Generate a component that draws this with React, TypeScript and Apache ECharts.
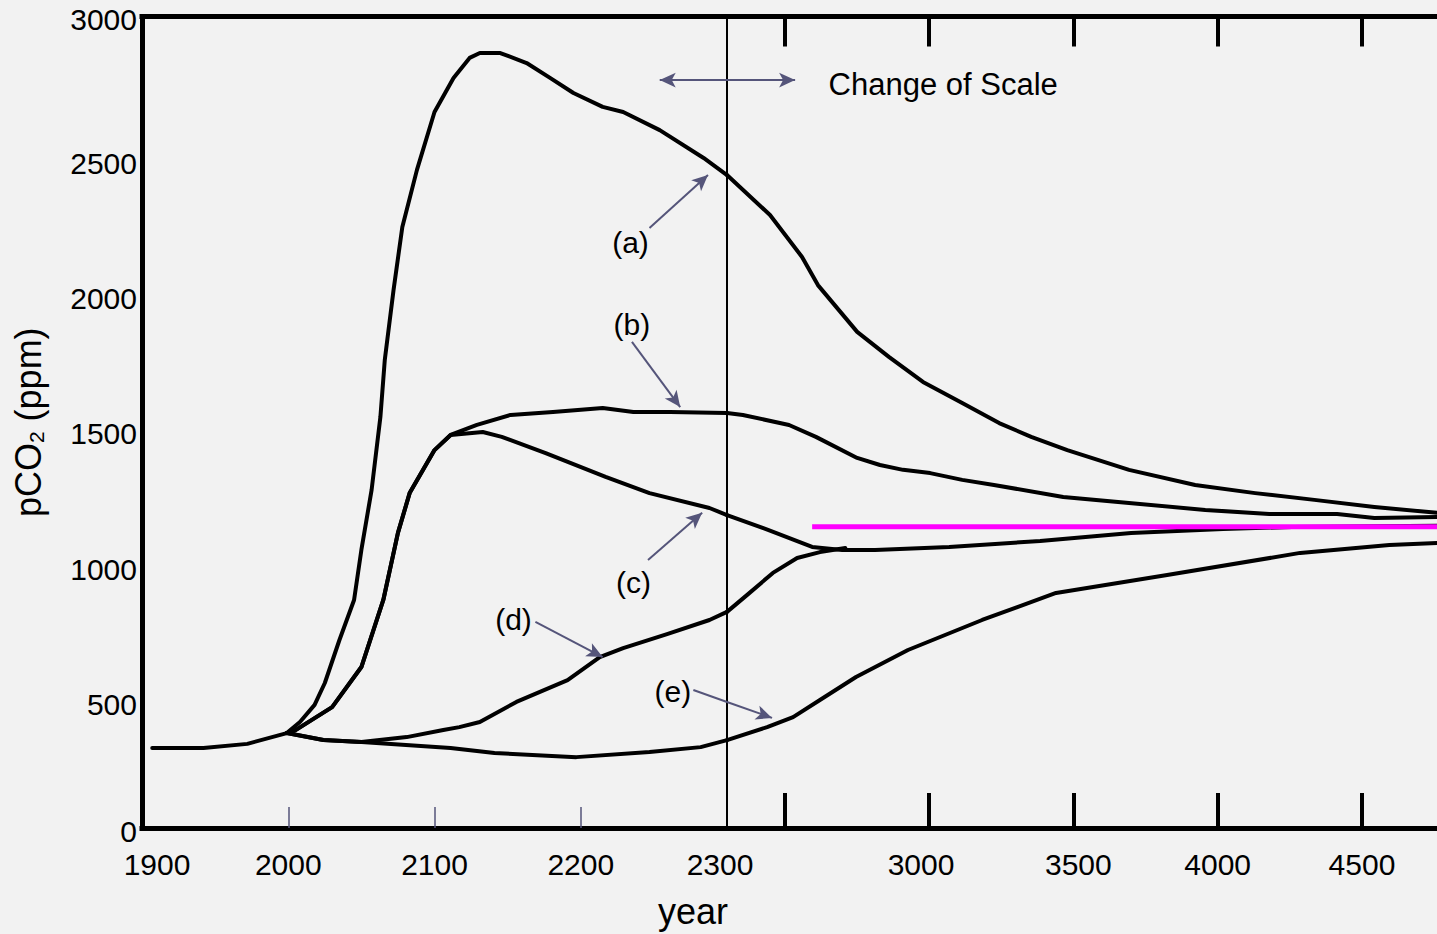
import React, { useEffect, useRef } from 'react';
import * as echarts from 'echarts';

// Year where the horizontal scale changes (1 unit left of it = 5.07 units right of it)
const BREAK_YEAR = 2300;
const LEFT_MIN = 1900;
const RIGHT_MAX = 4760;

// Tick / label positions on the two year scales
const leftTickYears = [2000, 2100, 2200];
const leftLabelYears = [1900, 2000, 2100, 2200, 2300];
const rightTickYears = [2500, 3000, 3500, 4000, 4500];
const rightLabelYears = [3000, 3500, 4000, 4500];

// pCO2 (ppm) trajectories, [year, ppm]
const historical: number[][] = [[1907, 296], [1942, 296], [1972, 311], [1999, 351]];

const curveA: number[][] = [
  [1999, 351], [2008, 392], [2018, 455], [2025, 536], [2035, 695], [2045, 843], [2050, 1028],
  [2057, 1250], [2063, 1519], [2066, 1730], [2072, 1989], [2078, 2222], [2088, 2433], [2100, 2647],
  [2113, 2773], [2124, 2847], [2131, 2865], [2145, 2865], [2163, 2828], [2179, 2773], [2195, 2717],
  [2215, 2666], [2229, 2647], [2254, 2580], [2284, 2477], [2300, 2414],
  [2449, 2266], [2560, 2111], [2615, 2007], [2751, 1834], [2862, 1741], [2979, 1649], [3115, 1571],
  [3243, 1497], [3354, 1446], [3479, 1397], [3693, 1324], [3922, 1268], [4130, 1238], [4335, 1213],
  [4543, 1187], [4760, 1165],
];

const curveB: number[][] = [
  [1999, 351], [2005, 362], [2030, 447], [2050, 595], [2065, 843], [2075, 1091], [2083, 1238],
  [2100, 1397], [2111, 1453], [2129, 1490], [2152, 1527], [2181, 1538], [2215, 1553], [2236, 1538],
  [2261, 1538], [2300, 1534],
  [2355, 1527], [2515, 1490], [2608, 1446], [2751, 1368], [2830, 1342], [2910, 1324], [3004, 1312],
  [3115, 1287], [3225, 1268], [3465, 1224], [3655, 1205], [3957, 1176], [4179, 1161], [4414, 1161],
  [4543, 1146], [4760, 1150],
];

const curveC: number[][] = [
  [1999, 351], [2005, 362], [2030, 447], [2050, 595], [2065, 843], [2075, 1091], [2083, 1238],
  [2100, 1397], [2111, 1453], [2133, 1464], [2146, 1446], [2176, 1386], [2217, 1298], [2247, 1238],
  [2288, 1183], [2300, 1157],
  [2442, 1102], [2595, 1039], [2699, 1028], [2813, 1028], [3070, 1039], [3385, 1061], [3700, 1091],
  [4019, 1105], [4258, 1113], [4760, 1117],
];

const curveD: number[][] = [
  [1999, 351], [2024, 325], [2050, 318], [2081, 336], [2106, 362], [2117, 373], [2131, 392],
  [2156, 466], [2191, 547], [2213, 632], [2229, 665], [2259, 717], [2288, 769], [2300, 799],
  [2369, 861], [2459, 943], [2543, 998], [2622, 1020], [2710, 1035],
];

const curveE: number[][] = [
  [1999, 351], [2024, 325], [2050, 318], [2111, 296], [2141, 277], [2197, 262], [2247, 281],
  [2282, 299], [2300, 325],
  [2439, 373], [2529, 410], [2622, 473], [2747, 558], [2927, 658], [3184, 769], [3440, 869],
  [3825, 935], [4286, 1017], [4595, 1046], [4760, 1054],
];

// Stabilisation level (magenta)
const stabilisationLevel = 1114;
const stabilisationYears = [2595, 4760];

// Curve labels and their pointer arrows, [year, ppm] on the left scale
const curveLabels = [
  { name: '(a)', at: [2234, 2163] },
  { name: '(b)', at: [2235, 1860] },
  { name: '(c)', at: [2236, 909] },
  { name: '(d)', at: [2154, 769] },
  { name: '(e)', at: [2263, 503] },
];
const leftArrows = [
  { from: [2247, 2218], to: [2287, 2414], head: true },
  { from: [2235, 1797], to: [2268, 1556], head: true },
  { from: [2246, 991], to: [2283, 1165], head: true },
  { from: [2169, 762], to: [2215, 632], head: true },
  { from: [2277, 510], to: [2300, 466], head: false },
];
const rightArrows = [{ from: [2300, 466], to: [2456, 407], head: true }];

// "Change of Scale" double arrow
const scaleArrowLevel = 2765;
const scaleArrowLeftYear = 2254;
const scaleArrowRightYear = 2536;
const scaleNote = { text: 'Change of Scale', at: [3049, 2747] };

const FONT = '"Liberation Sans", Arial, Helvetica, sans-serif';
const ARROW_COLOR = '#55557a';

const leftPart = (pts: number[][]) => pts.filter((p) => p[0] <= BREAK_YEAR);
const rightPart = (pts: number[][]) => pts.filter((p) => p[0] >= BREAK_YEAR);

const curveStyle = { color: '#000', width: 4, join: 'round', cap: 'round' };

const arrowItems = (list: { from: number[]; to: number[]; head: boolean }[]) =>
  list.map((a) => [
    { coord: a.from, symbol: 'none' },
    { coord: a.to, symbol: a.head ? 'arrow' : 'none' },
  ]);

const markLineBase = {
  silent: true,
  animation: false,
  symbolSize: [11, 16],
  label: { show: false },
  emphasis: { disabled: true },
  lineStyle: { color: ARROW_COLOR, width: 2, type: 'solid' },
};

const markPointBase = {
  silent: true,
  animation: false,
  symbol: 'circle',
  symbolSize: 1,
  itemStyle: { color: 'rgba(0,0,0,0)' },
  emphasis: { disabled: true },
};

function lineSeries(name: string, grid: number, data: number[][], extra: any = {}) {
  return {
    name,
    type: 'line',
    xAxisIndex: grid === 0 ? 0 : 2,
    yAxisIndex: grid,
    data,
    symbol: 'none',
    smooth: false,
    silent: true,
    lineStyle: curveStyle,
    ...extra,
  };
}

export default function App() {
  const ref = useRef<HTMLDivElement>(null);

  useEffect(() => {
    document.body.style.margin = '0';
    if (!ref.current) return;
    const chart = echarts.init(ref.current, undefined, { renderer: 'svg' });

    const thick = { show: true, lineStyle: { color: '#000', width: 5, cap: 'square' } };
    const labelBase = { fontSize: 30, color: '#000', fontFamily: FONT };

    const option: any = {
      animation: false,
      backgroundColor: '#f2f2f2',
      textStyle: { fontFamily: FONT },
      title: {
        text: 'year',
        left: 658,
        top: 893,
        padding: 0,
        textStyle: { fontSize: 36, fontWeight: 'normal', color: '#000', fontFamily: FONT },
      },
      grid: [
        { left: 142, top: 16.5, width: 585, bottom: 106 },
        { left: 727, top: 16.5, right: 0, bottom: 106 },
      ],
      xAxis: [
        {
          type: 'value', gridIndex: 0, position: 'bottom', min: LEFT_MIN, max: BREAK_YEAR,
          axisLine: thick,
          axisTick: {
            show: true, inside: true, length: 21, customValues: leftTickYears,
            lineStyle: { color: ARROW_COLOR, width: 1.5 },
          },
          axisLabel: {
            ...labelBase, margin: 21, customValues: leftLabelYears,
            formatter: (v: number) =>
              v === 1900 ? `{first|${v}}` : v === 2300 ? `{last|${v}}` : `{n|${v}}`,
            rich: {
              n: labelBase,
              first: { ...labelBase, padding: [0, 0, 0, 30] },
              last: { ...labelBase, padding: [0, 14, 0, 0] },
            },
          },
          splitLine: { show: false },
        },
        {
          type: 'value', gridIndex: 0, position: 'top', min: LEFT_MIN, max: BREAK_YEAR,
          axisLine: thick, axisTick: { show: false }, axisLabel: { show: false },
          splitLine: { show: false },
        },
        {
          type: 'value', gridIndex: 1, position: 'bottom', min: BREAK_YEAR, max: RIGHT_MAX,
          axisLine: thick,
          axisTick: {
            show: true, inside: true, length: 35, customValues: rightTickYears,
            lineStyle: { color: '#000', width: 4 },
          },
          axisLabel: {
            ...labelBase, margin: 21, customValues: rightLabelYears,
            formatter: (v: number) =>
              v === 3000 ? `{l|${v}}` : v === 3500 ? `{r|${v}}` : `{n|${v}}`,
            rich: {
              n: labelBase,
              l: { ...labelBase, padding: [0, 16, 0, 0] },
              r: { ...labelBase, padding: [0, 0, 0, 10] },
            },
          },
          splitLine: { show: false },
        },
        {
          type: 'value', gridIndex: 1, position: 'top', min: BREAK_YEAR, max: RIGHT_MAX,
          axisLine: thick,
          axisTick: {
            show: true, inside: true, length: 30, customValues: rightTickYears,
            lineStyle: { color: '#000', width: 4 },
          },
          axisLabel: { show: false },
          splitLine: { show: false },
        },
      ],
      yAxis: [
        {
          type: 'value', gridIndex: 0, min: 0, max: 3000, interval: 500,
          axisLine: thick,
          axisTick: { show: false },
          splitLine: { show: false },
          axisLabel: {
            ...labelBase, margin: 5,
            formatter: (v: number) => (v === 0 || v === 3000 ? `{e|${v}}` : `{m|${v}}`),
            rich: {
              e: { ...labelBase, padding: [6, 0, 0, 0] },
              m: { ...labelBase, padding: [23, 0, 0, 0] },
            },
          },
          name: '{n|pCO}{sub|2}{n| (ppm)}',
          nameLocation: 'middle',
          nameGap: 92,
          nameTextStyle: {
            color: '#000',
            fontFamily: FONT,
            rich: {
              n: { fontSize: 36, lineHeight: 44, color: '#000', fontFamily: FONT },
              sub: { fontSize: 21, lineHeight: 30, padding: [17, 0, 0, 0], color: '#000', fontFamily: FONT },
            },
          },
        },
        {
          type: 'value', gridIndex: 1, min: 0, max: 3000, interval: 500,
          axisLine: { show: true, lineStyle: { color: '#000', width: 2 } },
          axisTick: { show: false },
          axisLabel: { show: false },
          splitLine: { show: false },
        },
      ],
      series: [
        lineSeries('historical', 0, historical, {
          markLine: { ...markLineBase, data: arrowItems(leftArrows) },
          markPoint: {
            ...markPointBase,
            label: {
              show: true, position: 'inside', formatter: '{b}',
              fontSize: 30, color: '#000', fontFamily: FONT,
            },
            data: curveLabels.map((c) => ({ name: c.name, coord: c.at })),
          },
        }),
        lineSeries('a', 0, leftPart(curveA)),
        lineSeries('b', 0, leftPart(curveB)),
        lineSeries('c', 0, leftPart(curveC)),
        lineSeries('d', 0, leftPart(curveD)),
        lineSeries('e', 0, leftPart(curveE), {
          markLine: {
            ...markLineBase,
            data: [[
              { coord: [scaleArrowLeftYear, scaleArrowLevel], symbol: 'arrow' },
              { coord: [BREAK_YEAR, scaleArrowLevel], symbol: 'none' },
            ]],
          },
        }),
        lineSeries('a', 1, rightPart(curveA)),
        lineSeries('b', 1, rightPart(curveB)),
        lineSeries('c', 1, rightPart(curveC)),
        lineSeries('d', 1, rightPart(curveD)),
        lineSeries('e', 1, rightPart(curveE), {
          markLine: {
            ...markLineBase,
            data: [
              ...arrowItems(rightArrows),
              [
                { coord: [BREAK_YEAR, scaleArrowLevel], symbol: 'none' },
                { coord: [scaleArrowRightYear, scaleArrowLevel], symbol: 'arrow' },
              ],
            ],
          },
        }),
        lineSeries('stabilisation', 1, stabilisationYears.map((y) => [y, stabilisationLevel]), {
          z: 5,
          lineStyle: { color: '#ff00ff', width: 5, cap: 'butt' },
          markPoint: {
            ...markPointBase,
            label: {
              show: true, position: 'inside', formatter: '{b}',
              fontSize: 31, color: '#000', fontFamily: FONT,
            },
            data: [{ name: scaleNote.text, coord: scaleNote.at }],
          },
        }),
      ],
    };

    chart.setOption(option);
    return () => chart.dispose();
  }, []);

  return (
    <div
      ref={ref}
      style={{ position: 'fixed', left: 0, top: 0, width: 1437, height: 934 }}
    />
  );
}
